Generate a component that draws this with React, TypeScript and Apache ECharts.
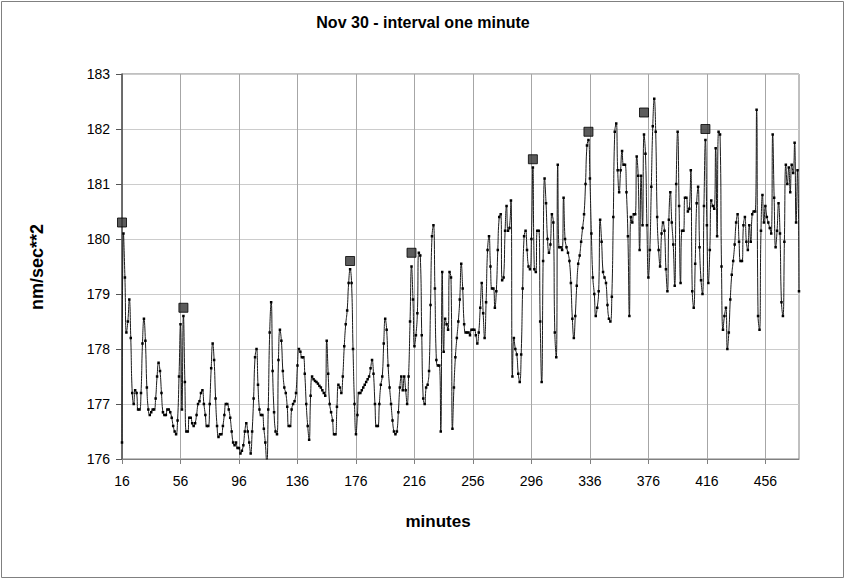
import React, { useEffect, useRef } from "react";
import * as echarts from "echarts";

// minute 16..47
const seg1 = [176.3, 180.1, 179.3, 178.3, 178.5, 178.9, 178.2, 177.2, 177.0, 177.25,
  177.2, 176.9, 176.9, 177.2, 178.1, 178.55, 178.15, 177.3, 176.9, 176.8,
  176.85, 176.9, 176.9, 177.1, 177.5, 177.75, 177.6, 177.2, 176.85, 176.8,
  176.8, 176.9];
// minute 48..88
const seg2 = [176.9, 176.85, 176.75, 176.6, 176.5, 176.45, 176.7, 177.5, 178.45, 176.9,
  178.6, 177.4, 176.5, 176.5, 176.75, 176.75, 176.65, 176.6, 176.65, 176.8,
  177.0, 177.05, 177.2, 177.25, 177.0, 176.8, 176.6, 176.6, 177.0, 177.65,
  178.1, 177.8, 177.1, 176.6, 176.4, 176.45, 176.45, 176.6, 176.8, 177.0,
  177.0];
// minute 89..128
const seg3 = [176.9, 176.75, 176.5, 176.3, 176.25, 176.3, 176.2, 176.2, 176.1, 176.15,
  176.25, 176.5, 176.65, 176.5, 176.3, 176.1, 176.5, 177.1, 177.85, 178.0,
  177.35, 176.9, 176.8, 176.8, 176.55, 176.3, 175.9, 176.9, 178.3, 178.85,
  177.6, 176.85, 176.5, 176.45, 177.8, 178.35, 178.15, 177.6, 177.3, 177.2];
// minute 129..168
const seg4 = [176.95, 176.6, 176.6, 176.9, 177.0, 177.05, 177.2, 177.7, 178.0, 177.95,
  177.85, 177.85, 177.55, 177.0, 176.6, 176.35, 177.15, 177.5, 177.45, 177.42,
  177.4, 177.37, 177.33, 177.3, 177.25, 177.2, 177.15, 178.15, 177.55, 177.0,
  176.85, 176.7, 176.45, 176.45, 176.95, 177.35, 177.3, 177.2, 177.5, 178.05];
// minute 169..207
const seg5 = [178.45, 178.7, 179.2, 179.45, 179.2, 178.0, 177.0, 176.45, 176.8, 177.2,
  177.2, 177.25, 177.3, 177.35, 177.4, 177.45, 177.5, 177.65, 177.8, 177.55,
  177.0, 176.6, 176.6, 177.0, 177.35, 177.5, 178.1, 178.55, 178.35, 177.7,
  177.3, 177.0, 176.7, 176.5, 176.45, 176.5, 176.85, 177.3, 177.5];
// minute 208..249
const seg6 = [177.25, 177.5, 177.25, 177.0, 177.5, 178.5, 179.5, 178.9, 178.05, 178.25,
  178.65, 179.75, 179.7, 178.25, 177.1, 177.0, 177.3, 177.35, 177.6, 178.8,
  180.05, 180.25, 179.1, 177.8, 177.7, 177.7, 176.5, 179.4, 177.95, 178.55,
  178.45, 178.35, 179.4, 179.3, 176.55, 177.3, 177.85, 178.2, 178.5, 178.9,
  179.55, 179.1];
// minute 250..287
const seg7 = [178.45, 178.3, 178.3, 178.3, 178.25, 178.35, 178.35, 178.35, 178.25, 178.1,
  178.3, 178.75, 179.2, 178.65, 178.2, 178.85, 179.8, 180.05, 179.5, 179.1,
  179.1, 178.75, 179.05, 179.8, 180.4, 180.45, 179.25, 179.3, 180.15, 180.6,
  180.15, 180.2, 180.7, 177.5, 178.2, 178.0, 177.9, 177.55];
// minute 288..327
const seg8 = [177.4, 177.9, 179.1, 180.05, 180.15, 179.8, 179.5, 179.45, 180.0, 181.3,
  179.45, 179.4, 180.15, 180.15, 178.5, 177.4, 179.6, 181.1, 180.65, 180.0,
  179.75, 179.9, 180.45, 180.3, 178.3, 177.85, 181.35, 179.85, 179.85, 179.8,
  180.75, 180.0, 179.85, 179.75, 179.6, 179.2, 178.55, 178.2, 178.6, 179.15];
// minute 328..366
const seg9 = [179.55, 179.7, 179.95, 180.2, 180.45, 181.0, 181.7, 181.8, 181.1, 180.1,
  179.3, 179.0, 178.6, 178.75, 179.05, 180.35, 179.95, 179.4, 179.3, 179.2,
  178.8, 178.55, 178.5, 178.95, 180.4, 181.95, 182.1, 181.25, 180.85, 181.25,
  181.6, 181.35, 181.35, 180.85, 180.05, 178.6, 180.4, 180.3, 180.45];
// minute 367..407
const seg10 = [180.45, 181.5, 181.15, 179.8, 181.15, 180.25, 181.9, 181.55, 180.25, 179.3,
  179.8, 180.95, 182.05, 182.55, 181.95, 180.4, 179.8, 179.5, 180.1, 180.3,
  180.15, 179.45, 179.05, 180.35, 180.85, 180.3, 179.9, 179.15, 181.0, 181.95,
  180.6, 179.2, 180.15, 180.15, 180.75, 180.75, 180.5, 180.55, 181.25, 179.05,
  178.75];
// minute 408..447
const seg11 = [179.55, 180.65, 180.95, 179.85, 179.25, 179.0, 180.6, 181.8, 180.25, 179.2,
  179.8, 180.7, 180.6, 180.55, 181.65, 180.05, 181.95, 181.9, 179.5, 178.35,
  178.6, 178.75, 178.0, 178.3, 178.9, 179.35, 179.6, 179.9, 180.3, 180.45,
  179.95, 179.6, 179.6, 180.25, 180.4, 179.95, 179.8, 180.25, 179.95, 180.45];
// minute 448..479
const seg12 = [180.5, 180.5, 182.35, 178.6, 178.35, 180.15, 180.8, 180.3, 180.6, 180.4,
  180.3, 180.2, 180.1, 181.9, 180.75, 179.85, 180.15, 180.65, 180.1, 178.85,
  178.6, 179.95, 181.35, 181.0, 181.3, 180.85, 181.35, 181.2, 181.75, 180.3,
  181.25, 179.05];

const firstMinute = 16;
const markerMinutes = [16, 58, 172, 214, 297, 335, 373, 415];
const markerValues = [180.3, 178.75, 179.6, 179.75, 181.45, 181.95, 182.3, 182.0];
const yTicks = [176, 177, 178, 179, 180, 181, 182, 183];

const values = [...seg1, ...seg2, ...seg3, ...seg4, ...seg5, ...seg6, ...seg7, ...seg8, ...seg9, ...seg10, ...seg11, ...seg12];
const minutes = values.map((_, i) => String(firstMinute + i));

const FONT = "'Liberation Sans', Arial, sans-serif";

export default function App() {
  const ref = useRef<HTMLDivElement>(null);
  useEffect(() => {
    if (!ref.current) return;
    const chart = echarts.init(ref.current, undefined, { renderer: "svg" });
    chart.setOption({
      animation: false,
      backgroundColor: "#ffffff",
      textStyle: { fontFamily: FONT },
      title: {
        text: "Nov 30 - interval one minute",
        left: "center",
        top: 9,
        textStyle: { fontSize: 16, fontWeight: "bold", color: "#000", fontFamily: FONT },
      },
      grid: {
        left: 122,
        right: 47,
        top: 74,
        bottom: 121,
        show: true,
        borderColor: "#808080",
        borderWidth: 1,
        backgroundColor: "#ffffff",
      },
      xAxis: {
        type: "category",
        data: minutes,
        boundaryGap: false,
        axisLine: { show: true, lineStyle: { color: "#808080", width: 1 } },
        axisTick: { show: true, interval: 39, length: 5, lineStyle: { color: "#808080" } },
        axisLabel: { interval: 39, fontSize: 14, color: "#000", margin: 15, fontFamily: FONT },
        splitLine: { show: true, interval: 39, lineStyle: { color: "#a6a6a6", width: 1 } },
      },
      yAxis: {
        type: "value",
        min: yTicks[0],
        max: yTicks[yTicks.length - 1],
        interval: 1,
        axisLine: { show: true, lineStyle: { color: "#555", width: 1.5 } },
        axisTick: { show: true, length: 6, lineStyle: { color: "#555" } },
        axisLabel: { fontSize: 14, color: "#000", margin: 12, fontFamily: FONT },
        splitLine: { show: true, lineStyle: { color: "#cccccc", width: 1 } },
      },
      series: [
        {
          type: "line",
          data: values,
          smooth: 0.5,
          symbol: "rect",
          symbolSize: 2.5,
          showSymbol: true,
          showAllSymbol: true,
          clip: true,
          lineStyle: { color: "#1a1a1a", width: 1 },
          itemStyle: { color: "#000" },
          z: 2,
        },
        {
          type: "scatter",
          data: markerMinutes.map((m, i) => [String(m), markerValues[i]]),
          symbol: "rect",
          symbolSize: 9,
          itemStyle: { color: "#333333", borderColor: "#000", borderWidth: 1 },
          z: 3,
        },
      ],
      graphic: [
        {
          type: "rect",
          shape: { x: 1.5, y: 1.5, width: 842, height: 576 },
          style: { fill: "none", stroke: "#808080", lineWidth: 1 },
          silent: true,
        },
        {
          type: "text",
          x: 438,
          y: 521,
          style: { text: "minutes", font: `bold 17px ${FONT}`, fill: "#000", textAlign: "center", textVerticalAlign: "middle" },
        },
        {
          type: "text",
          x: 37,
          y: 267,
          rotation: Math.PI / 2,
          style: { text: "nm/sec**2", font: `bold 18px ${FONT}`, fill: "#000", textAlign: "center", textVerticalAlign: "middle" },
        },
      ],
    });
    return () => chart.dispose();
  }, []);
  return (
    <div
      ref={ref}
      style={{ position: "fixed", left: 0, top: 0, width: 846, height: 580 }}
    />
  );
}
